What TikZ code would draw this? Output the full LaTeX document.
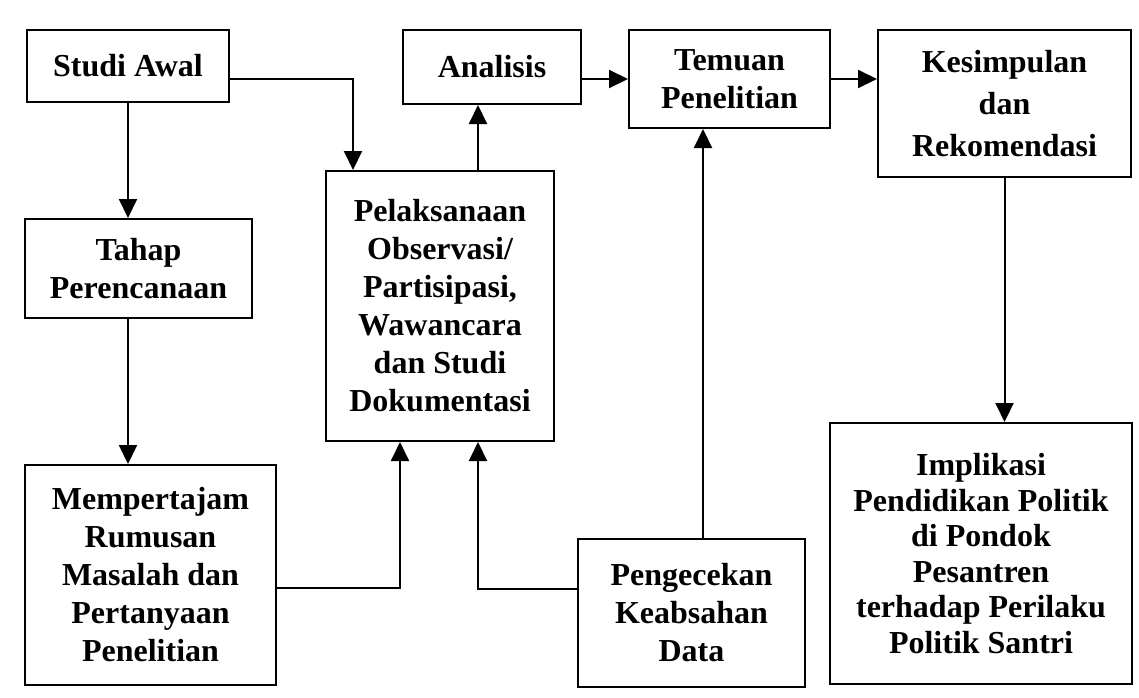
\documentclass[tikz,border=0pt]{standalone}
\usepackage{fontspec}
\setmainfont{Liberation Serif}
\usetikzlibrary{arrows.meta}
\tikzstyle{box} = [draw, line width=2pt, align=center, inner sep=0pt, font=\bfseries\fontsize{32}{38}\selectfont]
\tikzstyle{flow} = [line width=2pt, -{Triangle[length=19pt,width=18pt]}]

\begin{document}
\begin{tikzpicture}[x=1pt,y=-1pt]
    \useasboundingbox (0,0) rectangle (1139,697);
    \node[box, minimum width=202pt, minimum height=72pt] (studi) at (128,66) {Studi Awal};
    \node[box, minimum width=227pt, minimum height=99pt] (tahap) at (138.5,268.5) {Tahap\\Perencanaan};
    \node[box, minimum width=251pt, minimum height=220pt] (rumusan) at (150.5,575) {Mempertajam\\Rumusan\\Masalah dan\\Pertanyaan\\Penelitian};
    \node[box, minimum width=228pt, minimum height=270pt] (pelaksanaan) at (440,306) {Pelaksanaan\\Observasi/\\Partisipasi,\\Wawancara\\dan Studi\\Dokumentasi};
    \node[box, minimum width=178pt, minimum height=74pt] (analisis) at (492,67) {Analisis};
    \node[box, minimum width=201pt, minimum height=98pt] (temuan) at (729.5,79) {Temuan\\Penelitian};
    \node[box, minimum width=253pt, minimum height=147pt, font=\bfseries\fontsize{32}{42}\selectfont] (kesimpulan) at (1004.5,103.5) {Kesimpulan\\dan\\Rekomendasi};
    \node[box, minimum width=227pt, minimum height=148pt] (cek) at (691.5,613) {Pengecekan\\Keabsahan\\Data};
    \node[box, minimum width=302pt, minimum height=261pt, font=\bfseries\fontsize{32}{35.5}\selectfont] (implikasi) at (981,553.5) {Implikasi\\Pendidikan Politik\\di Pondok\\Pesantren\\terhadap Perilaku\\Politik Santri};

    \draw[flow] (studi.south) -- (studi.south |- tahap.north);
    \draw[flow] (studi.south |- tahap.south) -- (studi.south |- rumusan.north);
    \draw[flow] ([yshift=-13pt]studi.east) -| ([xshift=-87pt]pelaksanaan.north);
    \draw[flow] ([yshift=-13pt]rumusan.east) -| ([xshift=-40pt]pelaksanaan.south);
    \draw[flow] ([yshift=24pt]cek.west) -| ([xshift=38pt]pelaksanaan.south);
    \draw[flow] ([xshift=38pt]pelaksanaan.north) -- ([xshift=38pt]pelaksanaan.north |- analisis.south);
    \draw[flow] ([yshift=-12pt]analisis.east) -- ([yshift=-12pt]analisis.east -| temuan.west);
    \draw[flow] (temuan.east) -- (temuan.east -| kesimpulan.west);
    \draw[flow] ([xshift=11.5pt]cek.north) -- ([xshift=11.5pt]cek.north |- temuan.south);
    \draw[flow] (kesimpulan.south) -- (kesimpulan.south |- implikasi.north);
\end{tikzpicture}
\end{document}
